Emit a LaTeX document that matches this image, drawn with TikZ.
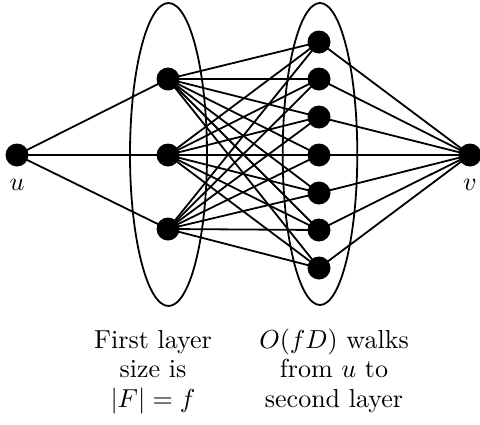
\documentclass[tikz,border=0pt]{standalone}
\newcommand{\bigtxt}[1]{\scalebox{2.6}{\renewcommand{\arraystretch}{0.93}\begin{tabular}[b]{@{}c@{}}#1\end{tabular}}}
\begin{document}
\begin{tikzpicture}[x=1pt,y=-1pt,
  vtx/.style={circle,fill=black,inner sep=0pt,minimum size=23pt},
  edge/.style={line width=1.8pt},
  grp/.style={line width=1.8pt},
  lbl/.style={inner sep=0pt,font=\normalsize}]
\useasboundingbox (0,0) rectangle (480,424);
\draw[grp] (168.5,154.5) ellipse [x radius=38.5, y radius=151.5];
\draw[grp] (320,154) ellipse [x radius=37.3, y radius=151];
\node[vtx] (u) at (17,155) {};
\node[vtx] (v) at (470,155) {};
\foreach \i/\y in {1/79,2/155,3/229} \node[vtx] (a\i) at (168,\y) {};
\foreach \j/\y in {1/42,2/79,3/117,4/155,5/193,6/230,7/268} \node[vtx] (b\j) at (319,\y) {};
\foreach \i in {1,2,3} \draw[edge] (u.center) -- (a\i.center);
\foreach \i in {1,2,3} \foreach \j in {1,...,7} \draw[edge] (a\i.center) -- (b\j.center);
\foreach \j in {1,...,7} \draw[edge] (b\j.center) -- (v.center);
\node[lbl,anchor=base] (lu) at (17,190) {\bigtxt{$u$}};
\node[lbl,anchor=base] (lv) at (470,190) {\bigtxt{$v$}};
\node[lbl,anchor=base] (t1) at (153,407) {\bigtxt{First layer\\size is\\$|F|=f$}};
\node[lbl,anchor=base] (t2) at (334,407) {\bigtxt{$O(fD)$ walks\\from $u$ to\\second layer}};
\end{tikzpicture}
\end{document}
